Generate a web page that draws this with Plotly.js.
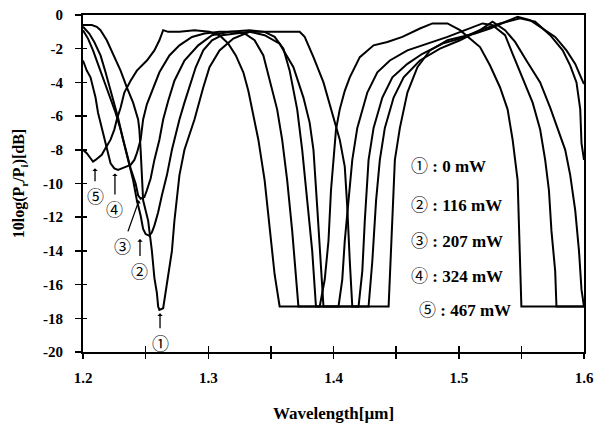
<!DOCTYPE html>
<html>
<head>
<meta charset="utf-8">
<script src="https://cdn.plot.ly/plotly-3.0.1.min.js"></script>
<style>html,body{margin:0;padding:0;background:#fff;}#chart{width:595px;height:423px;}</style>
</head>
<body>
<div id="chart"></div>
<script>
// Wavelength (um) and 10log(Pr/Pi) (dB), one pair per pump power
var wl1 = [1.200,1.207,1.211,1.214,1.219,1.224,1.230,1.235,1.240,1.244,1.245,1.246,1.247,1.248,1.252,1.255,1.257,1.259,1.260,1.261,1.264,1.265,1.268,1.271,1.273,1.275,1.277,1.281,1.285,1.289,1.296,1.301,1.309,1.320,1.333,1.349,1.365,1.373,1.377,1.384,1.392,1.400,1.405,1.409,1.411,1.413,1.415,1.444,1.446,1.448,1.449,1.453,1.459,1.467,1.477,1.491,1.501,1.513,1.525,1.537,1.547,1.557,1.565,1.577,1.586,1.593,1.597,1.600];
var db1 = [-0.6,-0.6,-0.7,-0.9,-1.5,-2.3,-3.3,-4.3,-5.2,-6.2,-6.8,-8.0,-9.5,-11.0,-12.2,-14.0,-15.6,-16.5,-17.3,-17.5,-17.4,-16.9,-15.6,-14.0,-12.2,-11.0,-9.5,-8.0,-7.1,-6.2,-4.3,-3.1,-2.1,-1.4,-1.0,-1.0,-1.0,-1.0,-1.3,-2.5,-4.0,-6.1,-7.4,-9.0,-11.4,-14.6,-17.3,-17.3,-14.0,-11.0,-8.6,-6.7,-4.6,-3.1,-2.1,-1.5,-1.3,-1.1,-0.8,-0.4,-0.1,-0.3,-0.7,-1.3,-2.1,-2.9,-3.6,-4.1];

var wl2 = [1.200,1.205,1.209,1.214,1.218,1.223,1.228,1.232,1.236,1.240,1.243,1.246,1.248,1.250,1.253,1.255,1.257,1.260,1.263,1.267,1.271,1.274,1.277,1.281,1.285,1.290,1.296,1.303,1.311,1.321,1.333,1.345,1.357,1.368,1.376,1.381,1.384,1.387,1.390,1.392,1.428,1.431,1.434,1.437,1.441,1.448,1.456,1.469,1.485,1.501,1.517,1.533,1.549,1.561,1.573,1.583,1.589,1.594,1.597,1.598,1.600];
var db2 = [-0.7,-1.1,-1.6,-2.4,-3.4,-4.8,-6.1,-7.4,-8.6,-9.8,-11.0,-11.9,-12.7,-13.0,-13.1,-12.9,-12.5,-11.7,-10.7,-9.5,-8.0,-7.1,-6.2,-5.2,-4.3,-3.1,-2.1,-1.5,-1.2,-1.1,-1.0,-1.2,-1.7,-3.1,-4.9,-6.4,-8.0,-11.4,-15.2,-17.3,-17.3,-14.6,-11.0,-8.6,-6.7,-4.9,-3.7,-2.7,-2.0,-1.5,-0.9,-0.5,-0.2,-0.4,-1.2,-2.1,-3.0,-4.0,-5.6,-7.6,-8.6];

var wl3 = [1.200,1.204,1.208,1.211,1.216,1.222,1.226,1.230,1.234,1.238,1.242,1.244,1.246,1.249,1.251,1.254,1.257,1.261,1.264,1.268,1.273,1.281,1.292,1.303,1.317,1.333,1.345,1.353,1.360,1.365,1.371,1.375,1.379,1.383,1.386,1.420,1.423,1.425,1.428,1.432,1.439,1.447,1.459,1.471,1.487,1.501,1.517,1.527,1.537,1.545,1.554,1.565,1.573,1.579,1.585,1.589,1.593,1.596,1.598,1.600];
var db3 = [-0.9,-1.4,-2.1,-2.7,-3.7,-4.9,-5.8,-6.8,-8.0,-9.1,-10.0,-10.7,-10.9,-10.8,-10.4,-9.7,-8.6,-7.4,-6.2,-5.1,-3.9,-2.7,-1.8,-1.2,-1.0,-0.9,-1.0,-1.3,-2.0,-3.3,-5.6,-8.0,-11.0,-14.0,-17.3,-17.3,-15.2,-12.2,-8.6,-6.7,-4.9,-3.7,-2.9,-2.3,-1.7,-1.4,-0.9,-0.4,-0.9,-1.6,-2.7,-4.0,-5.5,-6.7,-8.0,-9.5,-11.6,-14.0,-16.3,-17.3];

var wl4 = [1.200,1.203,1.206,1.208,1.210,1.212,1.215,1.218,1.222,1.225,1.228,1.231,1.234,1.238,1.241,1.243,1.246,1.248,1.251,1.255,1.261,1.269,1.277,1.287,1.297,1.309,1.321,1.329,1.337,1.344,1.349,1.355,1.359,1.363,1.367,1.370,1.372,1.404,1.407,1.409,1.412,1.415,1.419,1.427,1.435,1.445,1.459,1.475,1.491,1.505,1.519,1.527,1.537,1.543,1.551,1.559,1.565,1.569,1.572,1.574,1.577,1.578,1.600];
var db4 = [-2.7,-3.3,-3.7,-4.3,-4.9,-5.8,-6.7,-7.7,-8.8,-9.1,-9.2,-9.1,-9.0,-8.9,-8.6,-8.2,-7.4,-6.2,-5.3,-4.5,-3.4,-2.4,-1.8,-1.3,-1.1,-1.0,-1.0,-1.1,-1.5,-2.4,-3.9,-5.6,-7.4,-9.8,-12.8,-15.4,-17.3,-17.3,-15.7,-13.4,-11.0,-8.6,-6.7,-4.6,-3.4,-2.7,-2.1,-1.7,-1.3,-0.9,-0.5,-0.6,-1.2,-2.3,-3.7,-5.2,-6.8,-8.6,-10.4,-12.8,-15.2,-17.3,-17.3];

var wl5 = [1.200,1.203,1.206,1.208,1.210,1.213,1.215,1.218,1.222,1.225,1.227,1.230,1.233,1.238,1.243,1.251,1.257,1.261,1.264,1.268,1.277,1.289,1.301,1.309,1.316,1.322,1.328,1.332,1.335,1.340,1.345,1.349,1.353,1.357,1.389,1.393,1.396,1.398,1.400,1.402,1.405,1.409,1.413,1.421,1.432,1.443,1.455,1.469,1.479,1.491,1.501,1.509,1.517,1.525,1.533,1.539,1.543,1.547,1.548,1.549,1.550,1.600];
var db5 = [-8.0,-8.2,-8.5,-8.7,-8.6,-8.4,-8.3,-7.9,-7.4,-6.8,-6.2,-5.5,-4.6,-3.9,-3.3,-2.7,-2.1,-1.5,-0.9,-1.0,-1.0,-0.9,-1.0,-1.2,-1.7,-2.4,-3.4,-4.5,-5.6,-7.4,-9.8,-12.8,-15.4,-17.3,-17.3,-15.7,-13.4,-10.4,-8.6,-6.8,-5.6,-4.5,-3.7,-2.5,-1.8,-1.6,-1.3,-0.8,-0.5,-0.5,-0.9,-1.4,-1.9,-3.0,-4.3,-5.6,-7.4,-9.8,-12.8,-15.2,-17.3,-17.3];

var circled = ["\u2460", "\u2461", "\u2462", "\u2463", "\u2464"];
var powers = [" : 0 mW", " : 116 mW", " : 207 mW", " : 324 mW", " : 467 mW"];
var legendY = [-8.9, -11.2, -13.3, -15.4, -17.4];
var legendX = [1.4605, 1.4605, 1.4605, 1.4605, 1.4665];
var markerX = [1.2615, 1.2455, 1.2447, 1.2255, 1.2096];
var markerY = [-17.7, -13.3, -11.0, -9.4, -9.1];

var xTickVals = [1.2,1.3,1.4,1.5,1.6];
var xTickText = ["1.2","1.3","1.4","1.5","1.6"];
var xMinorVals = [1.25,1.35,1.45,1.55];
var xAllTicks = [1.2,1.25,1.3,1.35,1.4,1.45,1.5,1.55,1.6];
var yTickVals = [0,-2,-4,-6,-8,-10,-12,-14,-16,-18,-20];
var yTickText = ["0","-2","-4","-6","-8","-10","-12","-14","-16","-18","-20"];

var serif = "Liberation Serif, Times New Roman, serif";
var circFont = "Noto Sans CJK JP";
var wls = [wl1, wl2, wl3, wl4, wl5];
var dbs = [db1, db2, db3, db4, db5];
var traces = [];
for (var i = 0; i < 5; i++) {
  traces.push({type: 'scatter', mode: 'lines', x: wls[i], y: dbs[i], name: circled[i] + powers[i],
    line: {color: '#000', width: 2}, showlegend: false, hoverinfo: 'skip'});
}
traces.push({type: 'scatter', mode: 'lines', x: [], y: [], xaxis: 'x2', yaxis: 'y2', showlegend: false});

var annotations = [];
for (var j = 0; j < 5; j++) {
  annotations.push({x: legendX[j], y: legendY[j], xref: 'x', yref: 'y',
    text: '<span style="font-family:' + circFont + ';font-weight:normal;font-size:17px">' + circled[j] + '</span><b>' + powers[j] + '</b>',
    showarrow: false, xanchor: 'left', yanchor: 'middle',
    font: {family: serif, size: 17, color: '#000'}});
}
var offs = [[0, 29], [0, 31], [-16, 45], [0, 35], [0, 27]];
for (var k = 0; k < 5; k++) {
  annotations.push({x: markerX[k], y: markerY[k], xref: 'x', yref: 'y', text: circled[k],
    showarrow: true, ax: offs[k][0], ay: offs[k][1], arrowhead: 1, arrowsize: 0.7, arrowwidth: 1.3,
    arrowcolor: '#000', standoff: 0, startstandoff: 0,
    font: {family: circFont, size: 17, color: '#000'}});
}

var layout = {
  width: 595, height: 423,
  margin: {l: 83, r: 11, t: 15, b: 71},
  paper_bgcolor: '#fff', plot_bgcolor: '#fff',
  font: {family: serif, color: '#000'},
  showlegend: false,
  xaxis: {range: [1.2, 1.6], tickvals: xTickVals, ticktext: xTickText, ticks: 'outside', ticklen: 5,
    tickwidth: 1.5, tickcolor: '#000', showline: true, linewidth: 2, linecolor: '#000', mirror: true,
    minor: {tickvals: xMinorVals, ticks: 'outside', ticklen: 5, tickwidth: 1.5, tickcolor: '#000', showgrid: false},
    showgrid: false, zeroline: false, tickfont: {family: serif, size: 15, weight: 'bold'},
    ticklabelstandoff: 6,
    title: {text: 'Wavelength[\u00b5m]', font: {family: serif, size: 17, weight: 'bold'}, standoff: 26}},
  yaxis: {range: [-20, 0], tickvals: yTickVals, ticktext: yTickText, ticks: 'outside', ticklen: 6,
    tickwidth: 1.5, tickcolor: '#000', showline: true, linewidth: 2, linecolor: '#000', mirror: true,
    showgrid: false, zeroline: false, tickfont: {family: serif, size: 15, weight: 'bold'},
    ticklabelstandoff: 9,
    title: {text: '10log(P<sub>r</sub>/P<sub>i</sub>)[dB]', font: {family: serif, size: 16, weight: 'bold'}, standoff: 14}},
  xaxis2: {overlaying: 'x', anchor: 'y2', side: 'bottom', range: [1.2, 1.6], tickvals: xAllTicks,
    ticks: 'inside', ticklen: 6, tickwidth: 1.5, tickcolor: '#000', showticklabels: false,
    showline: false, showgrid: false, zeroline: false},
  yaxis2: {overlaying: 'y', anchor: 'x2', side: 'left', range: [-20, 0], tickvals: yTickVals,
    ticks: 'inside', ticklen: 4, tickwidth: 1.5, tickcolor: '#000', showticklabels: false,
    showline: false, showgrid: false, zeroline: false},
  annotations: annotations
};

Plotly.newPlot('chart', traces, layout, {displayModeBar: false, staticPlot: true});
</script>
</body>
</html>
